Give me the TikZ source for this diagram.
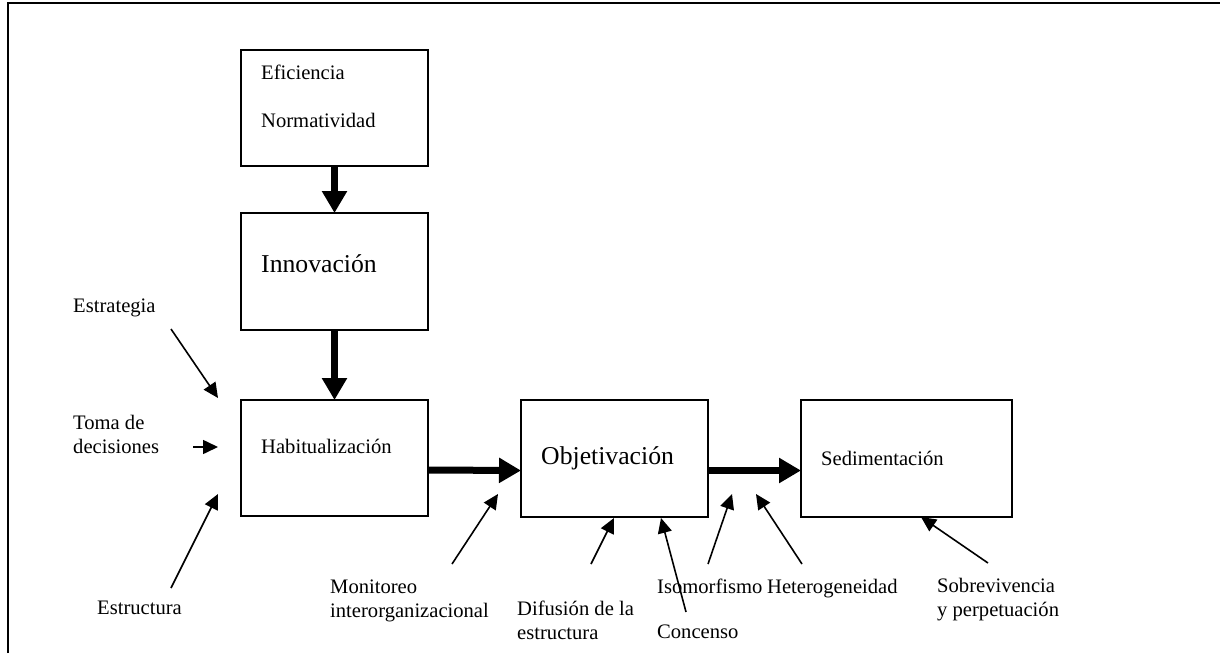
\documentclass[tikz,border=0pt]{standalone}
\usepackage{fontspec}
\setmainfont{Liberation Serif}
\usetikzlibrary{arrows.meta}
\begin{document}
\begin{tikzpicture}[x=1pt,y=-1pt,
  stage/.style={draw, line width=1.8pt, rectangle, anchor=north west, inner sep=0pt, outer sep=0pt},
  small/.style={inner sep=0pt, anchor=base west, align=left, font=\fontsize{20.6pt}{24pt}\selectfont},
  big/.style={inner sep=0pt, anchor=base west, font=\fontsize{25.7pt}{30pt}\selectfont},
  flow/.style={line width=7pt, -{Triangle[length=22pt,width=24pt]}},
  cue/.style={line width=1.6pt, -{Triangle[length=15pt,width=14pt]}}]
\useasboundingbox (0,0) rectangle (1220,653);

% outer frame (top and left edges)
\draw[line width=2pt] (7.5,653) -- (7.5,2.5) -- (1220,2.5);

% stage boxes
\node[stage, minimum width=187pt, minimum height=116pt] (efic) at (241,50) {};
\node[stage, minimum width=187pt, minimum height=117pt] (innov) at (241,213) {};
\node[stage, minimum width=187pt, minimum height=116pt] (habit) at (241,400) {};
\node[stage, minimum width=187pt, minimum height=117pt] (objet) at (521,400) {};
\node[stage, minimum width=211pt, minimum height=117pt] (sedim) at (801,400) {};

% box texts
\node[small] (efictxt) at (261,79) {Eficiencia};
\node[small] (normtxt) at (261,127) {Normatividad};
\node[big] (innovtxt) at (261,272) {Innovación};
\node[small] (habittxt) at (261,453) {Habitualización};
\node[big] (objettxt) at (541,464) {Objetivación};
\node[small] (sedimtxt) at (821,465) {Sedimentación};

% main flow
\draw[flow] (efic.south) -- (innov.north);
\draw[flow] (innov.south) -- (habit.north);
\draw[flow] ([yshift=-12pt]habit.east) -- ([yshift=-12pt]objet.west);
\draw[flow] ([yshift=-12pt]objet.east) -- ([yshift=-12pt]sedim.west);

% influencing factors (multi-line labels are placed by their last baseline)
\node[small] (estr) at (73,312) {Estrategia};
\node[small] (toma) at (73,453) {Toma de\\decisiones};
\node[small] (estru) at (97,614) {Estructura};
\node[small] (moni) at (330,617) {Monitoreo\\interorganizacional};
\node[small] (difu) at (517,639) {Difusión de la\\estructura};
\node[small] (conc) at (657,638) {Concenso};
\node[small] (iso) at (657,593) {Isomorfismo};
\node[small] (hete) at (767,593) {Heterogeneidad};
\node[small] (sobr) at (937,616) {Sobrevivencia\\y perpetuación};

\coordinate (estrA) at (171,329);  \coordinate (estrB) at (218,398);
\coordinate (tomaA) at (193,447);  \coordinate (tomaB) at (218,447);
\coordinate (estruA) at (171,588); \coordinate (estruB) at (218,494);
\coordinate (moniA) at (452,564);  \coordinate (moniB) at (498,494);
\coordinate (difuA) at (591,564);  \coordinate (difuB) at (614,518);
\coordinate (concA) at (686,612);  \coordinate (concB) at (661,518);
\coordinate (isoA) at (708,564);   \coordinate (isoB) at (732,494);
\coordinate (heteA) at (802,564);  \coordinate (heteB) at (756,494);
\coordinate (sobrA) at (988,563);  \coordinate (sobrB) at (921,517);

\draw[cue] (estrA) -- (estrB);
\draw[cue] (tomaA) -- (tomaB);
\draw[cue] (estruA) -- (estruB);
\draw[cue] (moniA) -- (moniB);
\draw[cue] (difuA) -- (difuB);
\draw[cue] (concA) -- (concB);
\draw[cue] (isoA) -- (isoB);
\draw[cue] (heteA) -- (heteB);
\draw[cue] (sobrA) -- (sobrB);
\end{tikzpicture}
\end{document}
